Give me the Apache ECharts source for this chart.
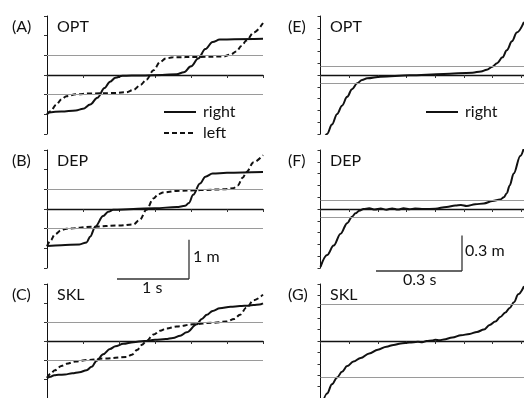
<!DOCTYPE html>
<html>
<head>
<meta charset="utf-8">
<script src="https://cdn.jsdelivr.net/npm/echarts@6/dist/echarts.min.js"></script>
<style>
  html, body { margin: 0; padding: 0; background: #fff; }
  #chart { width: 524px; height: 398px; }
</style>
</head>
<body>
<div id="chart"></div>
<script>
// stride data, [time s, displacement m]
const optRight = [[0,-0.96],[0.2,-0.93],[0.4,-0.9],[0.5,-0.86],[0.6,-0.75],[0.7,-0.58],[0.8,-0.33],[0.875,-0.17],[0.95,-0.07],[1.05,-0.02],[1.3,-0.01],[1.6,0.0],[1.8,0.02],[1.9,0.07],[2.0,0.22],[2.1,0.42],[2.2,0.66],[2.3,0.84],[2.4,0.9],[2.6,0.91],[3.0,0.92]]
const optLeft = [[0,-1.0],[0.05,-0.92],[0.13,-0.75],[0.2,-0.62],[0.27,-0.54],[0.4,-0.49],[0.6,-0.47],[0.9,-0.46],[1.1,-0.44],[1.2,-0.38],[1.3,-0.25],[1.38,-0.12],[1.48,0.12],[1.57,0.33],[1.65,0.42],[1.75,0.45],[2.1,0.46],[2.45,0.47],[2.55,0.52],[2.63,0.6],[2.7,0.74],[2.77,0.88],[2.87,1.08],[3.0,1.32]]
const depRight = [[0,-0.94],[0.2,-0.92],[0.45,-0.9],[0.55,-0.85],[0.6,-0.7],[0.67,-0.45],[0.78,-0.18],[0.85,-0.07],[0.92,-0.02],[1.2,0.0],[1.5,0.02],[1.8,0.05],[1.92,0.08],[1.97,0.15],[2.03,0.36],[2.125,0.65],[2.2,0.82],[2.3,0.9],[2.5,0.92],[3.0,0.94]]
const depLeft = [[0,-0.95],[0.05,-0.8],[0.11,-0.64],[0.2,-0.54],[0.27,-0.5],[0.64,-0.45],[1.0,-0.42],[1.2,-0.39],[1.29,-0.27],[1.38,-0.02],[1.48,0.27],[1.55,0.38],[1.61,0.42],[1.8,0.46],[2.13,0.48],[2.45,0.5],[2.59,0.53],[2.65,0.6],[2.72,0.8],[2.77,0.94],[2.87,1.19],[3.0,1.37]]
const sklRight = [[0,-0.98],[0.05,-0.94],[0.1,-0.9],[0.16,-0.89],[0.25,-0.88],[0.35,-0.85],[0.45,-0.82],[0.55,-0.77],[0.62,-0.68],[0.69,-0.52],[0.78,-0.35],[0.875,-0.21],[0.95,-0.14],[1.06,-0.075],[1.2,-0.03],[1.35,0.0],[1.5,0.03],[1.65,0.05],[1.75,0.08],[1.85,0.14],[1.94,0.23],[2.08,0.44],[2.15,0.58],[2.22,0.69],[2.3,0.79],[2.4,0.86],[2.55,0.9],[2.68,0.92],[2.8,0.93],[2.87,0.95],[2.95,0.96],[3.0,0.99]]
const sklLeft = [[0,-0.97],[0.05,-0.86],[0.11,-0.77],[0.2,-0.66],[0.27,-0.6],[0.4,-0.54],[0.55,-0.5],[0.8,-0.46],[1.1,-0.42],[1.18,-0.36],[1.25,-0.24],[1.32,-0.1],[1.38,0.0],[1.48,0.17],[1.57,0.27],[1.66,0.33],[1.8,0.38],[2.03,0.44],[2.3,0.48],[2.49,0.51],[2.6,0.58],[2.68,0.69],[2.77,0.88],[2.87,1.07],[3.0,1.22]]

// zoomed view, right foot only
const optZoom = [[0.0,-0.62],[0.023,-0.5],[0.04,-0.42],[0.058,-0.33],[0.075,-0.26],[0.093,-0.185],[0.11,-0.12],[0.128,-0.07],[0.145,-0.042],[0.163,-0.028],[0.21,-0.014],[0.31,-0.003],[0.43,0.009],[0.53,0.02],[0.56,0.03],[0.58,0.045],[0.6,0.07],[0.616,0.1],[0.635,0.15],[0.65,0.21],[0.668,0.285],[0.685,0.36],[0.71,0.45]]
const depZoom = [[0,-0.49],[0.023,-0.39],[0.046,-0.31],[0.07,-0.21],[0.093,-0.12],[0.11,-0.065],[0.122,-0.037],[0.135,-0.015],[0.15,0.0],[0.17,0.006],[0.19,-0.005],[0.21,0.004],[0.23,-0.006],[0.25,0.005],[0.27,-0.005],[0.29,0.006],[0.31,-0.002],[0.33,0.004],[0.36,0.0],[0.4,0.002],[0.44,0.018],[0.47,0.03],[0.49,0.034],[0.51,0.026],[0.54,0.04],[0.57,0.047],[0.6,0.068],[0.627,0.08],[0.64,0.1],[0.65,0.134],[0.66,0.2],[0.674,0.3],[0.697,0.45],[0.71,0.52]]
const sklZoom = [[0.0,-0.62],[0.023,-0.46],[0.04,-0.38],[0.058,-0.32],[0.075,-0.27],[0.093,-0.22],[0.115,-0.18],[0.14,-0.15],[0.17,-0.11],[0.2,-0.077],[0.23,-0.05],[0.255,-0.034],[0.28,-0.022],[0.31,-0.014],[0.34,-0.006],[0.355,-0.012],[0.37,0.0],[0.39,0.004],[0.4,0.012],[0.415,0.006],[0.43,0.014],[0.46,0.03],[0.49,0.05],[0.52,0.062],[0.546,0.08],[0.57,0.1],[0.59,0.14],[0.61,0.17],[0.627,0.21],[0.645,0.25],[0.66,0.29],[0.675,0.34],[0.69,0.41],[0.71,0.48]]

// threshold lines
const stepBands = [-0.5, 0.5]
const optBands = [-0.07, 0.07]
const depBands = [-0.07, 0.07]
const sklBands = [-0.32, 0.32]

const panelTags = ['(A)', '(B)', '(C)', '(E)', '(F)', '(G)']
const panelNames = ['OPT', 'DEP', 'SKL', 'OPT', 'DEP', 'SKL']

const FONT = 'Lato'
const FS = 16
const tops = [16, 150, 284]
const chart = echarts.init(document.getElementById('chart'))

const grids = []
const xAxes = []
const yAxes = []
tops.forEach(t => grids.push({ left: 47, top: t, width: 216, height: 118 }))
tops.forEach(t => grids.push({ left: 320.5, top: t, width: 204, height: 118 }))

const axisBase = {
  axisLabel: { show: false },
  splitLine: { show: false },
  axisLine: { lineStyle: { color: '#111', width: 1 } },
  axisTick: { length: 3, lineStyle: { color: '#333' } }
}
for (let i = 0; i < 6; i++) {
  const zoom = i >= 3
  xAxes.push({
    ...axisBase, type: 'value', gridIndex: i,
    min: 0, max: zoom ? 0.71 : 3, interval: zoom ? 0.1 : 0.5,
    axisLine: { onZero: true, lineStyle: { color: '#111', width: 1.3 } }
  })
  yAxes.push({
    ...axisBase, type: 'value', gridIndex: i,
    min: zoom ? -0.5 : -1.5, max: zoom ? 0.5 : 1.5, interval: zoom ? 0.1 : 0.5
  })
}

function bands(vals) {
  return {
    silent: true, symbol: 'none', label: { show: false },
    lineStyle: { color: '#9a9a9a', type: 'solid', width: 1.2 },
    data: vals.map(v => ({ yAxis: v }))
  }
}
function curve(name, data, idx, dashed, mark) {
  return {
    name, type: 'line', data, xAxisIndex: idx, yAxisIndex: idx,
    showSymbol: false, symbol: 'none', smooth: 0.35, smoothMonotone: 'x',
    clip: true, silent: true,
    itemStyle: { color: '#111' },
    lineStyle: { color: '#111', width: 2, type: dashed ? [5, 3] : 'solid' },
    markLine: mark ? bands(mark) : undefined,
    z: 3
  }
}

const series = [
  curve('right', optRight, 0, false, stepBands),
  curve('left', optLeft, 0, true),
  curve('right', depRight, 1, false, stepBands),
  curve('left', depLeft, 1, true),
  curve('right', sklRight, 2, false, stepBands),
  curve('left', sklLeft, 2, true),
  curve('right', optZoom, 3, false, optBands),
  curve('right', depZoom, 4, false, depBands),
  curve('right', sklZoom, 5, false, sklBands)
]

const labelText = []
for (let i = 0; i < 6; i++) {
  const col = i >= 3 ? 1 : 0
  const top = tops[i % 3]
  labelText.push({
    type: 'text', left: col ? 288 : 12, top: top + 3,
    style: { text: panelTags[i], font: FS + 'px ' + FONT, fill: '#111' }
  })
  labelText.push({
    type: 'text', left: col ? 330 : 57, top: top + 3,
    style: { text: panelNames[i], font: FS + 'px ' + FONT, fill: '#111' }
  })
}

const legendBase = {
  orient: 'vertical', itemWidth: 32, itemHeight: 12, itemGap: 5,
  textStyle: { fontFamily: FONT, fontSize: FS, color: '#111', padding: [0, 0, 0, 2] },
  itemStyle: { opacity: 0 },
  selectedMode: false
}

chart.setOption({
  animation: false,
  grid: grids,
  xAxis: xAxes,
  yAxis: yAxes,
  legend: [
    { ...legendBase, left: 158, top: 99, data: ['right', 'left'] },
    { ...legendBase, left: 420, top: 99, data: ['right'] }
  ],
  series,
  graphic: labelText
})

// scale bars, lengths taken from the axes
const p0 = chart.convertToPixel({ gridIndex: 1 }, [0, 0])
const p1 = chart.convertToPixel({ gridIndex: 1 }, [1, 1])
const q0 = chart.convertToPixel({ gridIndex: 4 }, [0, 0])
const q1 = chart.convertToPixel({ gridIndex: 4 }, [0.3, 0.3])
const sLen = p1[0] - p0[0], mLen = p0[1] - p1[1]
const sLen2 = q1[0] - q0[0], mLen2 = q0[1] - q1[1]
const barStyle = { stroke: '#333', lineWidth: 1.3 }
const lx = 189, ly = 279, rx = 462, ry = 271
chart.setOption({
  graphic: labelText.concat([
    { type: 'line', shape: { x1: lx - sLen, y1: ly, x2: lx, y2: ly }, style: barStyle },
    { type: 'line', shape: { x1: lx, y1: ly, x2: lx, y2: ly - mLen }, style: barStyle },
    { type: 'text', left: lx + 4, top: ly - mLen / 2 - 10, style: { text: '1 m', font: FS + 'px ' + FONT, fill: '#111' } },
    { type: 'text', left: lx - sLen / 2 - 11, top: ly + 1, style: { text: '1 s', font: FS + 'px ' + FONT, fill: '#111' } },
    { type: 'line', shape: { x1: rx - sLen2, y1: ry, x2: rx, y2: ry }, style: barStyle },
    { type: 'line', shape: { x1: rx, y1: ry, x2: rx, y2: ry - mLen2 }, style: barStyle },
    { type: 'text', left: rx + 3, top: ry - mLen2 / 2 - 10, style: { text: '0.3 m', font: FS + 'px ' + FONT, fill: '#111' } },
    { type: 'text', left: rx - sLen2 / 2 - 16, top: ry + 1, style: { text: '0.3 s', font: FS + 'px ' + FONT, fill: '#111' } }
  ])
})
</script>
</body>
</html>
